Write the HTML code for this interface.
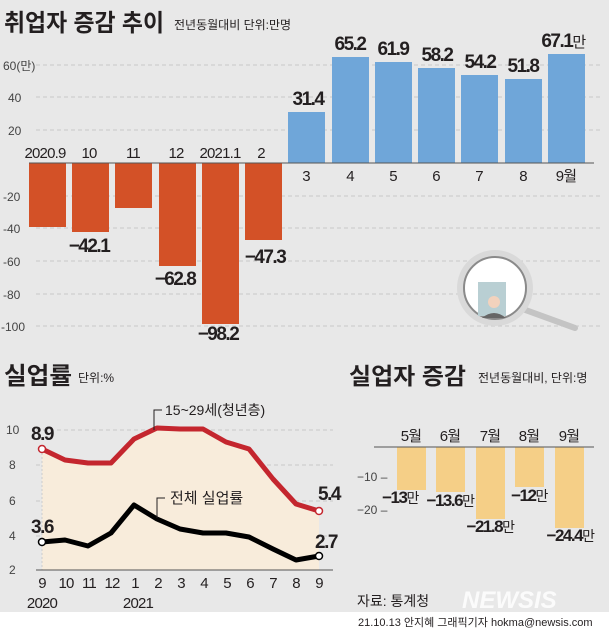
<!DOCTYPE html>
<html><head><meta charset="utf-8"><style>
body{margin:0;background:#e8e8e8;}
svg{display:block;font-family:"Liberation Sans","Noto Sans CJK KR",sans-serif;}
.v{font-size:19px;font-weight:bold;fill:#231f20;text-anchor:middle;letter-spacing:-1.5px;font-family:"Liberation Sans Narrow","Liberation Sans","Noto Sans CJK KR",sans-serif}
.m{font-size:15px;fill:#231f20;text-anchor:middle;letter-spacing:-0.8px}
.t{font-size:12px;fill:#444;}
.g{stroke:#c8c8c8;stroke-dasharray:4,3;stroke-width:1}
</style></head><body>
<svg width="609" height="630" viewBox="0 0 609 630">
<rect width="609" height="630" fill="#e8e8e8"/>
<rect y="612" width="609" height="18" fill="#fff"/>
<text x="4" y="31" font-size="24" font-weight="bold" fill="#231f20" textLength="160" lengthAdjust="spacingAndGlyphs">취업자 증감 추이</text>
<text x="174" y="29" font-size="12" fill="#231f20">전년동월대비 단위:만명</text>
<g class="g"><line x1="36" y1="65" x2="600" y2="65"/><line x1="36" y1="97" x2="600" y2="97"/><line x1="36" y1="130" x2="600" y2="130"/><line x1="36" y1="196" x2="600" y2="196"/><line x1="36" y1="228" x2="600" y2="228"/><line x1="36" y1="261" x2="600" y2="261"/><line x1="36" y1="294" x2="600" y2="294"/><line x1="36" y1="326" x2="600" y2="326"/></g>
<g class="t" text-anchor="start"><text x="3" y="70">60(만)</text><text x="8" y="102">40</text><text x="8" y="135">20</text><text x="3" y="201">-20</text><text x="3" y="233">-40</text><text x="3" y="266">-60</text><text x="3" y="299">-80</text><text x="1" y="331">-100</text></g>
<g fill="#d35127">
<rect x="29" y="163" width="37" height="64"/><rect x="72" y="163" width="37" height="69"/><rect x="115" y="163" width="37" height="45"/><rect x="159" y="163" width="37" height="103"/><rect x="202" y="163" width="37" height="161"/><rect x="245" y="163" width="37" height="77"/></g>
<g fill="#6fa6d9">
<rect x="288" y="112" width="37" height="51"/><rect x="332" y="57" width="37" height="106"/><rect x="375" y="62" width="37" height="101"/><rect x="418" y="68" width="37" height="95"/><rect x="461" y="75" width="37" height="88"/><rect x="505" y="79" width="37" height="84"/><rect x="548" y="54" width="37" height="109"/></g>
<line x1="29" y1="163" x2="594" y2="163" stroke="#555" stroke-width="1"/>
<g class="m"><text x="45" y="158">2020.9</text><text x="89" y="158">10</text><text x="133" y="158">11</text><text x="176" y="158">12</text><text x="220" y="158">2021.1</text><text x="261" y="158">2</text>
<text x="306" y="181">3</text><text x="350" y="181">4</text><text x="393" y="181">5</text><text x="436" y="181">6</text><text x="479" y="181">7</text><text x="523" y="181">8</text><text x="566" y="181">9월</text></g>
<g class="v"><text x="89" y="252">−42.1</text><text x="175" y="285">−62.8</text><text x="218" y="340">−98.2</text><text x="265" y="263">−47.3</text>
<text x="308" y="105">31.4</text><text x="350" y="50">65.2</text><text x="393" y="55">61.9</text><text x="437" y="61">58.2</text><text x="480" y="68">54.2</text><text x="523" y="72">51.8</text><text x="563" y="47">67.1<tspan font-weight="normal" font-size="15">만</tspan></text></g>
<line x1="520" y1="308" x2="575" y2="328" stroke="#c4c4c4" stroke-width="6" stroke-linecap="round"/>
<circle cx="495" cy="288" r="38" fill="#d9d9d9"/>
<circle cx="495" cy="288" r="31" fill="#fff" stroke="#8a8a8a" stroke-width="2"/>
<rect x="478" y="282" width="28" height="34" fill="#b9cfd3"/>
<circle cx="494" cy="302" r="6" fill="#f2d2bd"/><path d="M482 318 q12 -10 24 0z" fill="#666"/>
<text x="4" y="384" font-size="24" font-weight="bold" fill="#231f20" textLength="68" lengthAdjust="spacingAndGlyphs">실업률</text>
<text x="78" y="382" font-size="12" fill="#231f20">단위:%</text>
<g class="g"><line x1="36" y1="430" x2="333" y2="430"/><line x1="36" y1="465" x2="333" y2="465"/><line x1="36" y1="501" x2="333" y2="501"/><line x1="36" y1="536" x2="333" y2="536"/></g>
<g class="t"><text x="6" y="434">10</text><text x="9" y="469">8</text><text x="9" y="505">6</text><text x="9" y="540">4</text><text x="9" y="574">2</text></g>
<polygon fill="#f8ecdb" points="42,449 65,460 88,463 111,463 134,439 157,430 180,431 203,431 226,442 249,449 273,479 296,504 319,511 319,570 42,570"/>
<line x1="42" y1="449" x2="42" y2="570" stroke="#ccc" stroke-dasharray="2,2"/>
<polyline fill="none" stroke="#c4262e" stroke-width="5" stroke-linejoin="round" points="42,449 65,460 88,463 111,463 134,439 157,428 180,429 203,429 226,442 249,449 273,479 296,504 319,511"/>
<polyline fill="none" stroke="#000" stroke-width="5" stroke-linejoin="round" points="42,542 65,540 88,546 111,533 134,505 157,519 180,529 203,533 226,533 249,537 273,549 296,560 319,556"/>
<circle cx="42" cy="449" r="3.5" fill="#fff" stroke="#c4262e" stroke-width="1.5"/><circle cx="319" cy="511" r="3.5" fill="#fff" stroke="#c4262e" stroke-width="1.5"/>
<circle cx="42" cy="542" r="3.5" fill="#fff" stroke="#000" stroke-width="1.5"/><circle cx="319" cy="556" r="3.5" fill="#fff" stroke="#000" stroke-width="1.5"/>
<polyline fill="none" stroke="#231f20" points="154,430 154,410 162,410"/>
<polyline fill="none" stroke="#231f20" points="157,518 157,498 165,498"/>
<text x="165" y="415" font-size="14" fill="#231f20">15~29세(청년층)</text>
<text x="170" y="503" font-size="15" fill="#231f20">전체 실업률</text>
<g class="v"><text x="42" y="440">8.9</text><text x="329" y="500">5.4</text><text x="42" y="533">3.6</text><text x="326" y="548">2.7</text></g>
<line x1="36" y1="570" x2="333" y2="570" stroke="#555"/>
<g class="m"><text x="42" y="588">9</text><text x="66" y="588">10</text><text x="89" y="588">11</text><text x="112" y="588">12</text><text x="135" y="588">1</text><text x="158" y="588">2</text><text x="181" y="588">3</text><text x="204" y="588">4</text><text x="227" y="588">5</text><text x="250" y="588">6</text><text x="273" y="588">7</text><text x="296" y="588">8</text><text x="319" y="588">9</text>
<text x="42" y="608">2020</text><text x="138" y="608">2021</text></g>
<text x="349" y="384" font-size="23" font-weight="bold" fill="#231f20" textLength="117" lengthAdjust="spacingAndGlyphs">실업자 증감</text>
<text x="478" y="382" font-size="12" fill="#231f20">전년동월대비, 단위:명</text>
<g fill="#f5cf87"><rect x="397" y="447" width="29" height="43"/><rect x="436" y="447" width="29" height="45"/><rect x="476" y="447" width="29" height="72"/><rect x="515" y="447" width="29" height="40"/><rect x="555" y="447" width="29" height="81"/></g>
<line x1="374" y1="447" x2="594" y2="447" stroke="#555"/>
<g class="m"><text x="411" y="441">5월</text><text x="450" y="441">6월</text><text x="490" y="441">7월</text><text x="529" y="441">8월</text><text x="569" y="441">9월</text></g>
<g class="t"><text x="357" y="481">−10 –</text><text x="357" y="514">−20 –</text></g>
<g class="v" style="font-size:17px"><text x="400" y="503">−13<tspan font-weight="normal" font-size="14">만</tspan></text><text x="450" y="506">−13.6<tspan font-weight="normal" font-size="14">만</tspan></text><text x="490" y="532">−21.8<tspan font-weight="normal" font-size="14">만</tspan></text><text x="529" y="501">−12<tspan font-weight="normal" font-size="14">만</tspan></text><text x="570" y="541">−24.4<tspan font-weight="normal" font-size="14">만</tspan></text></g>
<text x="357" y="606" font-size="14" fill="#231f20">자료: 통계청</text>
<text x="462" y="608" font-size="24" font-weight="bold" font-style="italic" fill="#fff" opacity="0.85">NEWSIS</text>
<text x="358" y="626" font-size="11" fill="#231f20">21.10.13 안지혜 그래픽기자 hokma@newsis.com</text>
</svg>
</body></html>
